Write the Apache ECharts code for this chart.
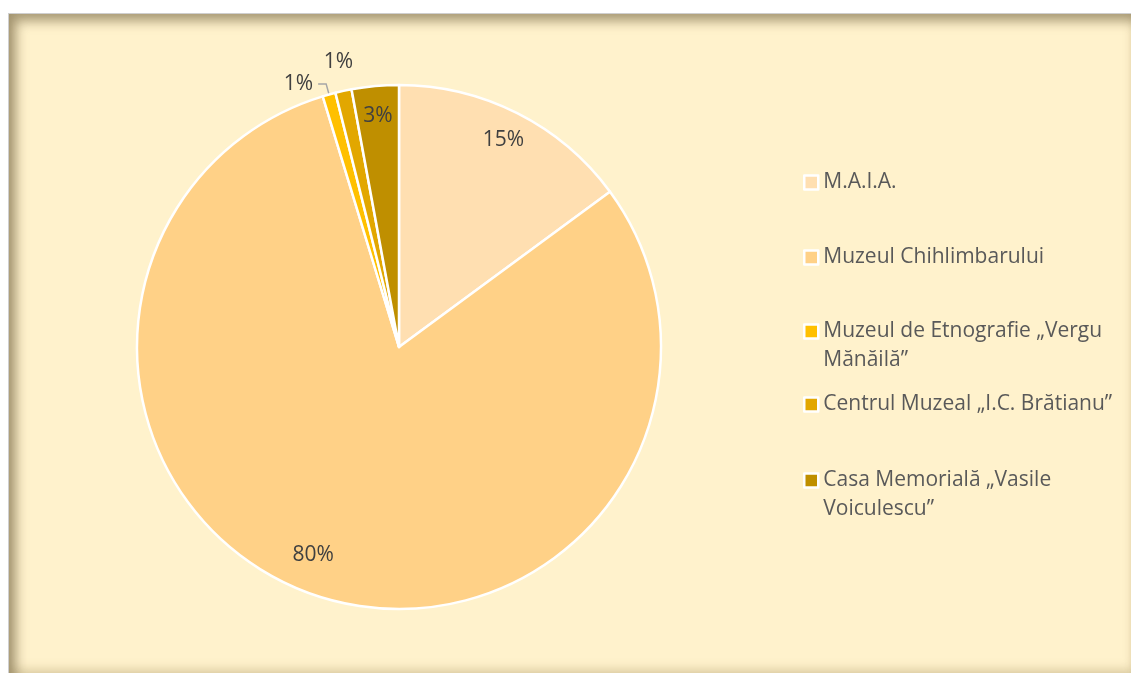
<!DOCTYPE html>
<html>
<head>
<meta charset="utf-8">
<script src="https://cdn.jsdelivr.net/npm/echarts@6/dist/echarts.min.js"></script>
<style>
  html, body { margin: 0; padding: 0; background: #fff; }
  #frame {
    position: absolute; left: 8px; top: 13px; width: 1123px; height: 660px;
    background: #FFF2CC;
    border-left: 1px solid #cfcfcf; border-top: 1px solid #cfcfcf;
    box-shadow: inset 7px 7px 12px rgba(110, 95, 60, 0.6), inset 0 -6px 10px rgba(150, 130, 80, 0.25);
  }
  #main { position: absolute; left: 0; top: 0; width: 1131px; height: 673px; }
</style>
</head>
<body>
<div id="frame"></div>
<div id="main"></div>
<script>
// date muzee - procente vizitatori
var names = ['M.A.I.A.', 'Muzeul Chihlimbarului', 'Muzeul de Etnografie „Vergu Mănăilă”', 'Centrul Muzeal „I.C. Brătianu”', 'Casa Memorială „Vasile Voiculescu”'];
var values = [14.9, 80.4, 0.8, 1.0, 2.9];
var colors = ['#FFDFB1', '#FFD187', '#FFC000', '#E2A700', '#BF8F00'];

var myChart = echarts.init(document.getElementById('main'));

var pieData = [];
var labelData = [];
for (var i = 0; i < names.length; i++) {
    pieData.push({ name: names[i], value: values[i], itemStyle: { color: colors[i] } });
    var lbl = { name: names[i], value: values[i] };
    if (i == 2) {
        lbl.label = { position: 'outside' };
        lbl.labelLine = { show: true, length: 12, length2: 8 };
    } else if (i == 3) {
        lbl.label = { position: 'outside' };
        lbl.labelLine = { show: false, length: 31, length2: 0 };
    }
    labelData.push(lbl);
}

var legendTops = [168, 243, 288, 390, 437];
var legends = [];
for (var j = 0; j < names.length; j++) {
    var two = (j == 2 || j == 4);
    legends.push({
        data: [names[j]],
        orient: 'vertical',
        left: 803,
        top: legendTops[j],
        padding: 0,
        icon: 'rect',
        itemWidth: 14,
        itemHeight: 14,
        selectedMode: false,
        itemStyle: { borderColor: '#fff', borderWidth: 2.5 },
        // rand gol deasupra ca iconita sa stea pe primul rand
        formatter: two ? function (n) { return '\n' + n; } : '{name}',
        textStyle: {
            color: '#595959',
            fontFamily: 'Open Sans',
            fontSize: 21,
            lineHeight: 29,
            width: 330,
            overflow: 'break'
        }
    });
}

option = {
    animation: false,
    backgroundColor: 'transparent',
    legend: legends,
    series: [
        {
            name: 'Muzee',
            type: 'pie',
            center: [399, 347],
            radius: 262,
            startAngle: 90,
            clockwise: true,
            silent: true,
            itemStyle: { borderColor: '#fff', borderWidth: 2.5 },
            label: { show: false },
            labelLine: { show: false },
            data: pieData
        },
        {
            // doar etichetele
            name: 'Etichete',
            type: 'pie',
            center: [399, 347],
            radius: [196, 261],
            startAngle: 90,
            clockwise: true,
            silent: true,
            avoidLabelOverlap: false,
            itemStyle: { color: 'rgba(0,0,0,0)' },
            label: {
                show: true,
                position: 'inside',
                color: '#404040',
                fontFamily: 'Open Sans',
                fontSize: 21,
                formatter: function (p) { return Math.round(p.percent) + '%'; }
            },
            labelLine: { lineStyle: { color: '#a6a6a6', width: 1.5 } },
            labelLayout: function (p) {
                if (p.dataIndex == 1) return { dx: -13, dy: -12 };
                if (p.dataIndex == 3) return { dx: 21 };
            },
            data: labelData
        }
    ]
};
myChart.setOption(option);
window.onresize = myChart.resize;
</script>
</body>
</html>
